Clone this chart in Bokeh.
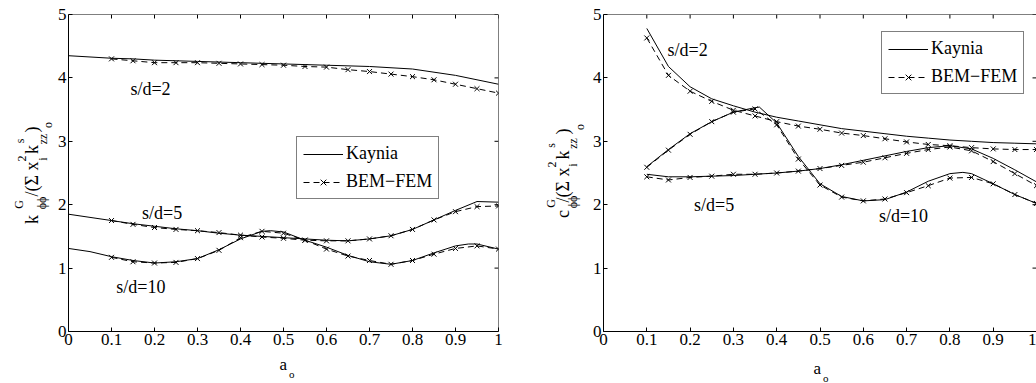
import math
from bokeh.plotting import figure
from bokeh.models import Range1d, LinearAxis, FixedTicker, Label, Legend, LegendItem, Span
from bokeh.layouts import row, column
from bokeh.core.properties import value
from bokeh.embed import file_html
from bokeh.resources import INLINE

FONT = "Liberation Serif"

# ---------------- data: left panel (stiffness) ----------------
k_kay_x = [0, 0.05, 0.1, 0.15, 0.2, 0.25, 0.3, 0.35, 0.4, 0.45, 0.5, 0.55, 0.6, 0.65, 0.7, 0.75, 0.8, 0.85, 0.9, 0.95, 1.0]
k_kay_sd2 = [4.35, 4.33, 4.31, 4.30, 4.28, 4.27, 4.26, 4.25, 4.24, 4.23, 4.22, 4.21, 4.20, 4.19, 4.18, 4.16, 4.14, 4.09, 4.04, 3.97, 3.90]
k_kay_sd5 = [1.85, 1.80, 1.75, 1.70, 1.66, 1.62, 1.59, 1.55, 1.52, 1.50, 1.48, 1.46, 1.44, 1.43, 1.46, 1.51, 1.61, 1.76, 1.91, 2.05, 2.04]
k_kay_sd10_x = [0, 0.05, 0.1, 0.15, 0.2, 0.25, 0.3, 0.35, 0.4, 0.45, 0.47, 0.5, 0.55, 0.6, 0.65, 0.7, 0.75, 0.8, 0.85, 0.9, 0.93, 0.95, 1.0]
k_kay_sd10 = [1.31, 1.26, 1.18, 1.12, 1.08, 1.10, 1.15, 1.29, 1.46, 1.58, 1.59, 1.57, 1.44, 1.33, 1.20, 1.10, 1.06, 1.12, 1.24, 1.35, 1.38, 1.38, 1.30]

bem_x = [0.1, 0.15, 0.2, 0.25, 0.3, 0.35, 0.4, 0.45, 0.5, 0.55, 0.6, 0.65, 0.7, 0.75, 0.8, 0.85, 0.9, 0.95, 1.0]
k_bem_sd2 = [4.30, 4.27, 4.24, 4.24, 4.24, 4.23, 4.22, 4.21, 4.20, 4.18, 4.17, 4.13, 4.10, 4.06, 4.02, 3.97, 3.90, 3.83, 3.76]
k_bem_sd5 = [1.75, 1.69, 1.64, 1.61, 1.59, 1.56, 1.52, 1.49, 1.47, 1.44, 1.43, 1.43, 1.46, 1.51, 1.61, 1.76, 1.89, 1.97, 1.98]
k_bem_sd10 = [1.17, 1.10, 1.08, 1.09, 1.15, 1.28, 1.48, 1.58, 1.55, 1.44, 1.30, 1.19, 1.12, 1.06, 1.12, 1.22, 1.31, 1.35, 1.30]

# ---------------- data: right panel (damping) ----------------
c_kay_x = [0.1, 0.15, 0.2, 0.25, 0.3, 0.35, 0.4, 0.45, 0.5, 0.55, 0.6, 0.65, 0.7, 0.75, 0.8, 0.85, 0.9, 0.95, 1.0]
c_kay_sd2 = [4.78, 4.18, 3.86, 3.67, 3.56, 3.46, 3.38, 3.32, 3.26, 3.20, 3.16, 3.12, 3.08, 3.05, 3.02, 3.00, 2.98, 2.97, 2.96]
c_kay_sd5 = [2.48, 2.44, 2.44, 2.45, 2.46, 2.48, 2.50, 2.53, 2.57, 2.63, 2.70, 2.77, 2.84, 2.90, 2.93, 2.88, 2.73, 2.55, 2.36]
c_kay_sd10_x = [0.1, 0.15, 0.2, 0.25, 0.3, 0.35, 0.36, 0.4, 0.45, 0.5, 0.55, 0.6, 0.65, 0.7, 0.75, 0.8, 0.83, 0.85, 0.9, 0.95, 1.0]
c_kay_sd10 = [2.60, 2.87, 3.12, 3.31, 3.46, 3.53, 3.54, 3.29, 2.76, 2.33, 2.13, 2.06, 2.08, 2.20, 2.37, 2.49, 2.51, 2.49, 2.33, 2.16, 2.02]

c_bem_sd2 = [4.63, 4.04, 3.79, 3.63, 3.49, 3.40, 3.31, 3.24, 3.19, 3.13, 3.09, 3.04, 2.99, 2.95, 2.93, 2.90, 2.88, 2.87, 2.87]
c_bem_sd5 = [2.44, 2.39, 2.43, 2.45, 2.48, 2.48, 2.50, 2.53, 2.57, 2.62, 2.67, 2.74, 2.81, 2.87, 2.91, 2.85, 2.68, 2.49, 2.30]
c_bem_sd10 = [2.59, 2.86, 3.11, 3.31, 3.46, 3.51, 3.26, 2.72, 2.31, 2.12, 2.06, 2.09, 2.19, 2.30, 2.42, 2.43, 2.33, 2.16, 2.02]

x_ticks = [0, 0.1, 0.2, 0.3, 0.4, 0.5, 0.6, 0.7, 0.8, 0.9, 1.0]
x_tick_labels = ["0", "0.1", "0.2", "0.3", "0.4", "0.5", "0.6", "0.7", "0.8", "0.9", "1"]
y_ticks = [0, 1, 2, 3, 4, 5]
y_tick_labels = ["0", "1", "2", "3", "4", "5"]
legend_labels = ["Kaynia", "BEM\u2212FEM"]
curve_labels = ["s/d=2", "s/d=5", "s/d=10"]
ylabel_main = ["/(\u03a3 x", "k", ")"]
ylabel_scripts = ["G", "\u03d5\u03d5", "2", "i", "s", "zz", "o"]

TICK_FS = "17px"
TEXT_FS = "18px"
MAIN_FS = "18px"
SCRIPT_FS = "12px"
XMAIN_FS = "17px"
XSCRIPT_FS = "11px"
TICK_LEN = 4
ROW_H = 355
B_TOP = 14
B_BOT = 24
FRAME_H = ROW_H - B_TOP - B_BOT


def make_fig(width, bl, br, right_line):
    p = figure(width=width, height=ROW_H,
               x_range=Range1d(0, 1), y_range=Range1d(0, 5),
               x_axis_location=None, y_axis_location=None,
               output_backend="svg", toolbar_location=None,
               min_border_left=bl, min_border_right=br,
               min_border_top=B_TOP, min_border_bottom=B_BOT)
    p.xgrid.visible = False
    p.ygrid.visible = False
    p.outline_line_color = None
    p.background_fill_color = "white"
    p.border_fill_color = "white"
    xa = LinearAxis(ticker=FixedTicker(ticks=x_ticks),
                    major_label_overrides={t: l for t, l in zip(x_ticks, x_tick_labels)})
    ya = LinearAxis(ticker=FixedTicker(ticks=y_ticks),
                    major_label_overrides={t: l for t, l in zip(y_ticks, y_tick_labels)})
    for ax in (xa, ya):
        ax.major_tick_in = TICK_LEN
        ax.major_tick_out = 0
        ax.minor_tick_in = 0
        ax.minor_tick_out = 0
        ax.axis_line_color = "black"
        ax.major_tick_line_color = "black"
        ax.major_label_text_font = FONT
        ax.major_label_text_font_size = TICK_FS
        ax.major_label_text_color = "black"
        ax.major_label_standoff = 2
    p.add_layout(xa, "below")
    p.add_layout(ya, "left")
    p.add_layout(Span(location=5, dimension="width", line_color="black", line_width=1))
    if right_line:
        p.add_layout(Span(location=1, dimension="height", line_color="black", line_width=1))
    return p


def inner_ticks(p, fw):
    dy = TICK_LEN * 5.0 / FRAME_H
    dx = TICK_LEN * 1.0 / fw
    p.segment(x0=x_ticks, y0=[5] * len(x_ticks), x1=x_ticks, y1=[5 - dy] * len(x_ticks),
              line_color="black", line_width=1)
    p.segment(x0=[1] * len(y_ticks), y0=y_ticks, x1=[1 - dx] * len(y_ticks), y1=y_ticks,
              line_color="black", line_width=1)


def draw(p, kx2, k2, kx5, k5, kx10, k10, b2, b5, b10, loc, labels):
    kr = None
    for xs, ys in [(kx2, k2), (kx5, k5), (kx10, k10)]:
        kr = p.line(xs, ys, line_color="black", line_width=1)
    br = bs = None
    for ys in [b2, b5, b10]:
        br = p.line(bem_x, ys, line_color="black", line_width=1, line_dash="6 4")
        bs = p.scatter(bem_x, ys, marker="x", size=7, line_color="black", line_width=1)
    leg = Legend(items=[LegendItem(label=legend_labels[0], renderers=[kr]),
                        LegendItem(label=legend_labels[1], renderers=[br, bs])],
                 location=loc, orientation="vertical",
                 label_text_font=FONT, label_text_font_size=TEXT_FS, label_text_color="black",
                 glyph_width=40, glyph_height=20, label_height=20, label_standoff=3,
                 spacing=7, padding=6, margin=0,
                 border_line_color="black", border_line_width=1, background_fill_alpha=1)
    p.add_layout(leg)
    for (lx, ly), t in zip(labels, curve_labels):
        p.add_layout(Label(x=lx, y=ly, text=t, text_font=FONT, text_font_size=TEXT_FS,
                           text_color="black", text_align="left", text_baseline="alphabetic"))


def strip(x0, x1, height, ybottom, ytop):
    # the strip's frame is aligned with its row neighbours; its ranges are canvas pixels
    s = figure(width=x1 - x0, height=height,
               x_range=Range1d(x0, x1), y_range=Range1d(ybottom, ytop),
               x_axis_location=None, y_axis_location=None,
               output_backend="svg", toolbar_location=None,
               min_border_left=0, min_border_right=0, min_border_top=0, min_border_bottom=0)
    s.xgrid.visible = False
    s.ygrid.visible = False
    s.outline_line_color = None
    s.background_fill_color = "white"
    s.border_fill_color = "white"
    return s


def put(s, xs, ys, texts, size, angle=0.0, align="left", baseline="alphabetic"):
    s.text(x=xs, y=ys, text=texts, angle=angle, text_font=value(FONT),
           text_font_size=value(size), text_color="black",
           text_align=align, text_baseline=baseline)


def ylabel(s, first, mx, sx, my, sy):
    A = math.pi / 2
    put(s, mx, my, [first] + ylabel_main, MAIN_FS, A, "center", "middle")
    put(s, sx, sy, ylabel_scripts, SCRIPT_FS, A, "center", "middle")


FRAME_BOTTOM = ROW_H - B_BOT

# ---------------- left label strip + left figure ----------------
yl1 = strip(0, 54, ROW_H, FRAME_BOTTOM, B_TOP)
ylabel(yl1, "k",
       [31.5] * 4, [18, 41, 21, 42, 19.8, 42, 47],
       [219, 178.5, 149, 129], [204, 202.5, 158, 158.5, 140.5, 138.5, 124.5])

p1 = make_fig(486, 14, 42, True)
inner_ticks(p1, 430)
draw(p1, k_kay_x, k_kay_sd2, k_kay_x, k_kay_sd5, k_kay_sd10_x, k_kay_sd10,
     k_bem_sd2, k_bem_sd5, k_bem_sd10, (228, 132),
     [(0.144, 3.83), (0.171, 1.87), (0.111, 0.70)])

# ---------------- right label strip + right figure ----------------
yl2 = strip(540, 589, ROW_H, FRAME_BOTTOM, B_TOP)
ylabel(yl2, "c",
       [562.3] * 4, [550, 572, 551.8, 572.8, 550.6, 572.8, 579],
       [213.5, 184.5, 154.5, 131], [203, 201.5, 164, 164.5, 145, 143, 126.5])

p2 = make_fig(447, 14, 0, False)
inner_ticks(p2, 433)
draw(p2, c_kay_x, c_kay_sd2, c_kay_x, c_kay_sd5, c_kay_sd10_x, c_kay_sd10,
     c_bem_sd2, c_bem_sd5, c_bem_sd10, (278, 237),
     [(0.148, 4.44), (0.209, 2.00), (0.636, 1.82)])

# ---------------- x-axis label strip ----------------
xs = strip(0, 1036, 383 - ROW_H, 383, ROW_H)
put(xs, [279, 813], [364, 368], ["a", "a"], XMAIN_FS)
put(xs, [288.5, 822.5], [373, 377], ["o", "o"], XSCRIPT_FS)

layout = column(row(yl1, p1, yl2, p2), xs)
open("out.html", "w").write(file_html(layout, INLINE))
